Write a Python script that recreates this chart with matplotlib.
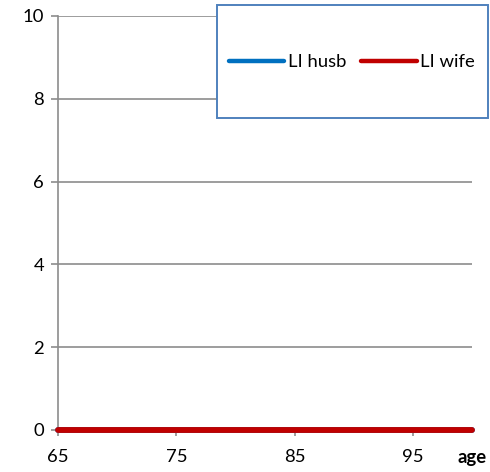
import matplotlib
matplotlib.use("Agg")
import matplotlib.pyplot as plt
from matplotlib.patches import Rectangle

plt.rcParams['font.family'] = ['Lato', 'DejaVu Sans']

ages = list(range(65, 101))
li_husb = [0] * len(ages)
li_wife = [0] * len(ages)
x_ticks = [65, 75, 85, 95]
y_ticks = [0, 2, 4, 6, 8, 10]

W, H = 490, 472
fig = plt.figure(figsize=(W / 100, H / 100), dpi=100)
ax = fig.add_axes([58 / W, 1 - 430 / H, (472 - 58) / W, (430 - 16) / H])

grid_c = '#8c8c8c'
fs = 13.3
h1, = ax.plot(ages, li_husb, color='#0070C0', lw=4.2, solid_capstyle='round', label='LI husb', zorder=3, clip_on=False)
h2, = ax.plot(ages, li_wife, color='#C00000', lw=4.2, solid_capstyle='round', label='LI wife', zorder=4, clip_on=False)

ax.set_xlim(65, 100)
ax.set_ylim(0, 10)
ax.set_xticks(x_ticks)
ax.set_yticks(y_ticks)
ax.yaxis.grid(True, color=grid_c, lw=1.2)
ax.set_axisbelow(True)
for s in ['top', 'right']:
    ax.spines[s].set_visible(False)
for s in ['left', 'bottom']:
    ax.spines[s].set_color(grid_c)
    ax.spines[s].set_linewidth(1.2)
ax.tick_params(axis='both', colors=grid_c, labelcolor='black', labelsize=fs, width=1.2)
ax.tick_params(axis='x', length=4.5, pad=9)
ax.tick_params(axis='y', length=5, pad=5)

fig.text(472 / W, 1 - 458 / H, 'age', fontsize=fs, fontweight='bold', ha='center', va='center')

# legend box
box = Rectangle((217 / W, 1 - 118 / H), (488 - 217) / W, (118 - 5) / H,
                transform=fig.transFigure, facecolor='white', edgecolor='#4F81BD', lw=1.4, zorder=2)
fig.patches.append(box)

leg = fig.legend([h1, h2], ['LI husb', 'LI wife'], loc='center left',
                 bbox_to_anchor=(229 / W, 1 - 62 / H), ncol=2, frameon=False,
                 fontsize=fs, handlelength=3.0, handletextpad=0.2, columnspacing=0.8,
                 borderpad=0, borderaxespad=0)
leg.set_zorder(5)
for ln in leg.get_lines():
    ln.set_linewidth(3.2)
    ln.set_solid_capstyle('round')

fig.savefig('out.png', dpi=100)
